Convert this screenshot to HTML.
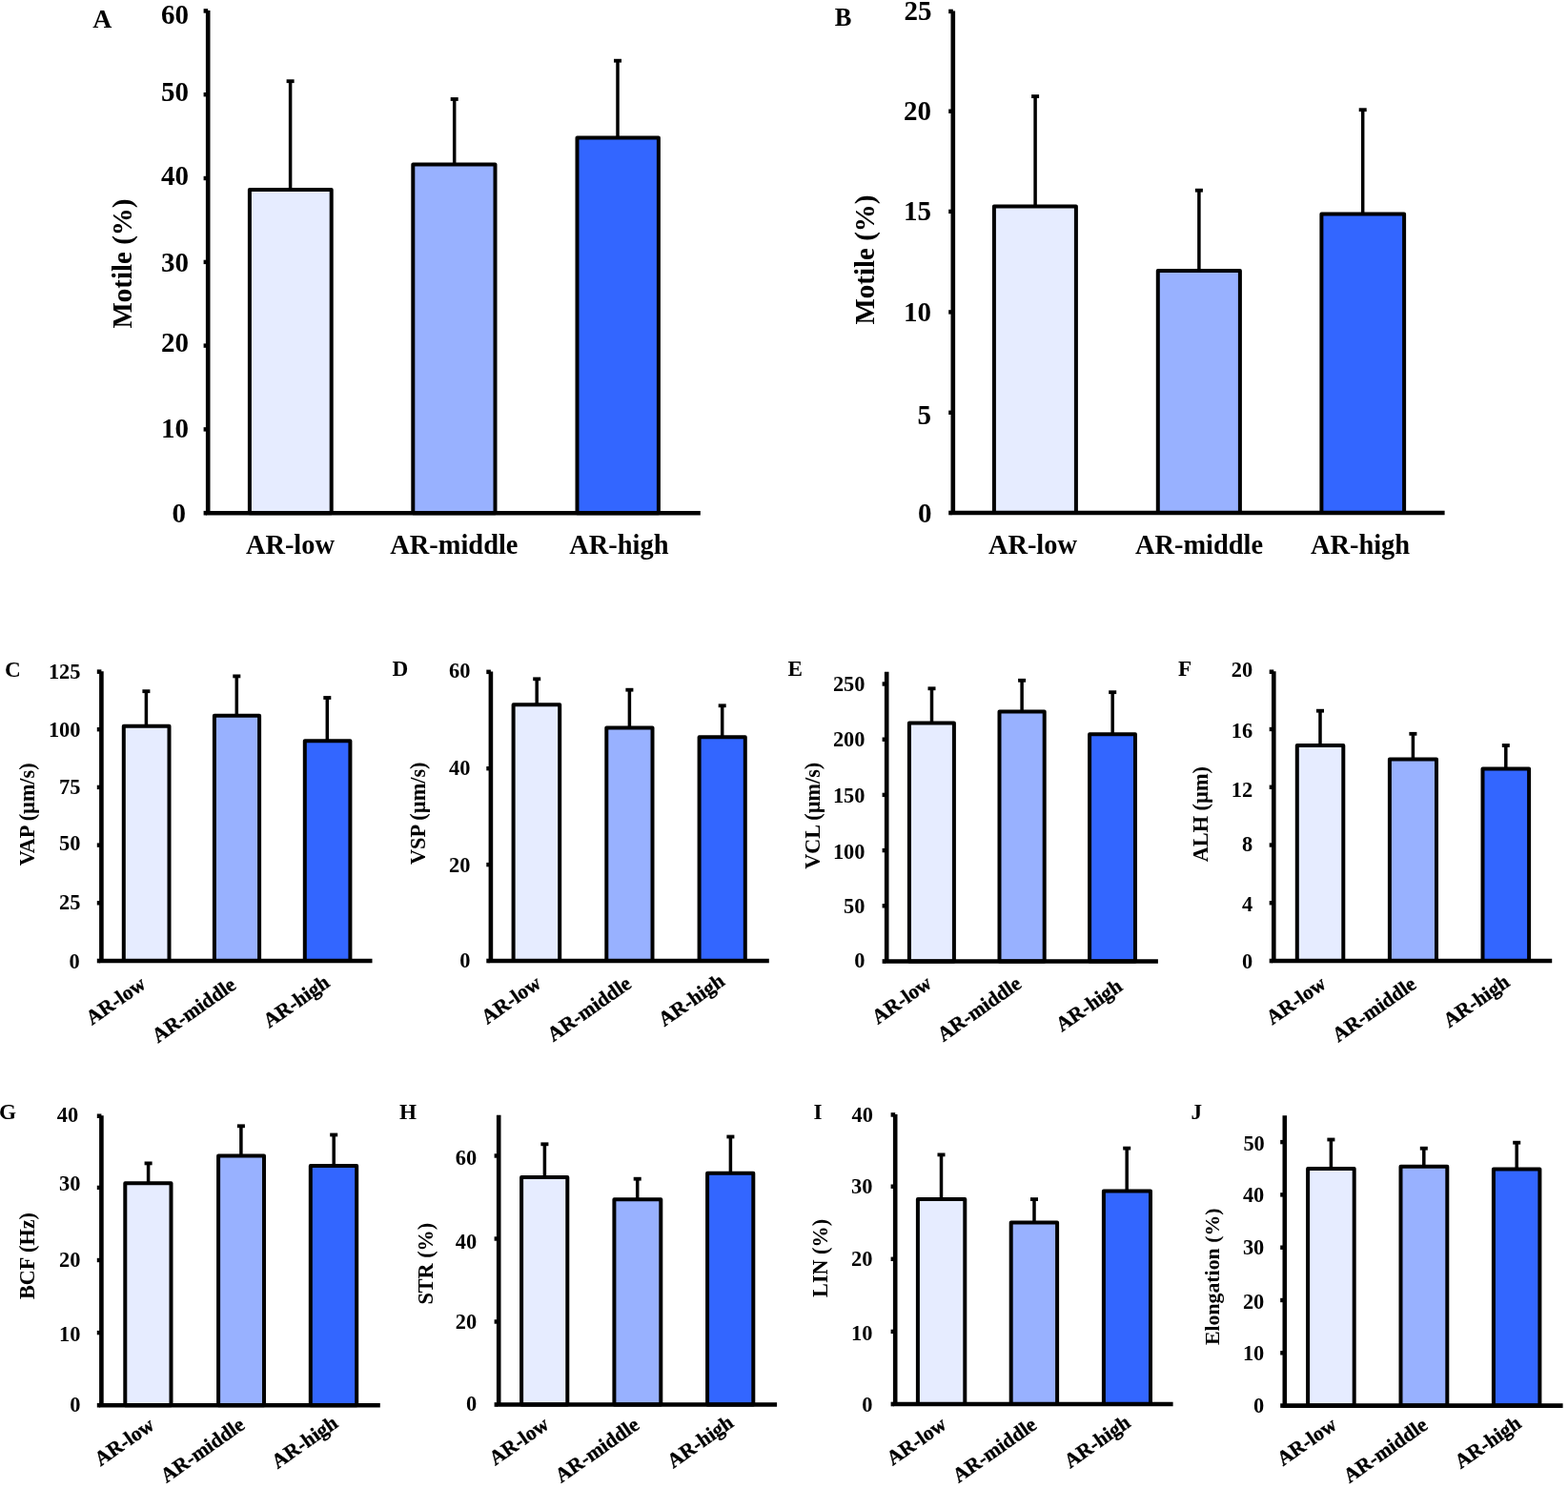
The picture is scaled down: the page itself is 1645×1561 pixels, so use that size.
<!DOCTYPE html>
<html lang="en">
<head>
<meta charset="utf-8">
<title>Sperm motility parameters by AR group</title>
<style>
html,body{margin:0;padding:0;background:#fff;}
body{width:1645px;height:1561px;overflow:hidden;}
svg{display:block;}
svg text{font-family:"Liberation Serif",serif;font-weight:bold;fill:#000;}
</style>
</head>
<body>
<svg width="1645" height="1561" viewBox="0 0 1645 1561">
<rect width="1645" height="1561" fill="#fff"/>
<g id="panel-A">
<text x="97.3" y="28.8" font-size="27.8">A</text>
<path d="M304.6 84.3V199" stroke="#000" stroke-width="3.5" fill="none"/>
<rect x="300.6" y="83.3" width="8" height="3.8" fill="#000"/>
<rect x="261.9" y="199" width="85.8" height="339.2" fill="#E6ECFF" stroke="#000" stroke-width="4" stroke-linejoin="round"/>
<path d="M476.7 103.1V172.4" stroke="#000" stroke-width="3.5" fill="none"/>
<rect x="472.7" y="102.1" width="8" height="3.8" fill="#000"/>
<rect x="433.3" y="172.4" width="86.2" height="365.8" fill="#98B1FF" stroke="#000" stroke-width="4" stroke-linejoin="round"/>
<path d="M648 62.8V144.4" stroke="#000" stroke-width="3.5" fill="none"/>
<rect x="644" y="61.8" width="8" height="3.8" fill="#000"/>
<rect x="605.5" y="144.4" width="85.4" height="393.8" fill="#3366FF" stroke="#000" stroke-width="4" stroke-linejoin="round"/>
<text x="195" y="548.34" font-size="29" text-anchor="end">0</text>
<rect x="213.6" y="448.2" width="4.6" height="4.4" fill="#000"/>
<text x="198" y="458.94" font-size="29" text-anchor="end">10</text>
<rect x="213.6" y="360.4" width="4.6" height="4.4" fill="#000"/>
<text x="198" y="369.34" font-size="29" text-anchor="end">20</text>
<rect x="213.6" y="272.7" width="4.6" height="4.4" fill="#000"/>
<text x="198" y="284.64" font-size="29" text-anchor="end">30</text>
<rect x="213.6" y="184.8" width="4.6" height="4.4" fill="#000"/>
<text x="198" y="193.74" font-size="29" text-anchor="end">40</text>
<rect x="213.6" y="97" width="4.6" height="4.4" fill="#000"/>
<text x="198" y="106.04" font-size="29" text-anchor="end">50</text>
<rect x="213.6" y="9.2" width="4.6" height="4.5" fill="#000"/>
<text x="198" y="25.04" font-size="29" text-anchor="end">60</text>
<path d="M218.2 11V538.2H734.8" stroke="#000" stroke-width="4.6" fill="none" stroke-linejoin="miter"/>
<rect x="213.6" y="535.9" width="3.3" height="4.6" fill="#000"/>
<text transform="translate(137.5 276.5) rotate(-90)" font-size="29" text-anchor="middle">Motile (%)</text>
<text x="304.4" y="580.7" font-size="28.4" text-anchor="middle">AR-low</text>
<text x="476.4" y="580.7" font-size="28.4" text-anchor="middle">AR-middle</text>
<text x="649.4" y="580.7" font-size="28.4" text-anchor="middle">AR-high</text>
</g>
<g id="panel-B">
<text x="875.8" y="26.7" font-size="26.5">B</text>
<path d="M1086.1 100.2V216.5" stroke="#000" stroke-width="3.5" fill="none"/>
<rect x="1082.1" y="99.2" width="8" height="3.8" fill="#000"/>
<rect x="1042.9" y="216.5" width="86" height="321.5" fill="#E6ECFF" stroke="#000" stroke-width="4" stroke-linejoin="round"/>
<path d="M1257.9 198.8V284.1" stroke="#000" stroke-width="3.5" fill="none"/>
<rect x="1253.9" y="197.8" width="8" height="3.8" fill="#000"/>
<rect x="1214.8" y="284.1" width="86.1" height="253.9" fill="#98B1FF" stroke="#000" stroke-width="4" stroke-linejoin="round"/>
<path d="M1429.7 114.3V224.4" stroke="#000" stroke-width="3.5" fill="none"/>
<rect x="1425.7" y="113.3" width="8" height="3.8" fill="#000"/>
<rect x="1386.4" y="224.4" width="86.7" height="313.6" fill="#3366FF" stroke="#000" stroke-width="4" stroke-linejoin="round"/>
<text x="977.5" y="547.74" font-size="29" text-anchor="end">0</text>
<rect x="995.2" y="430.6" width="4.6" height="4.4" fill="#000"/>
<text x="977" y="444.94" font-size="29" text-anchor="end">5</text>
<rect x="995.2" y="325.2" width="4.6" height="4.4" fill="#000"/>
<text x="977" y="337.14" font-size="29" text-anchor="end">10</text>
<rect x="995.2" y="219.7" width="4.6" height="4.4" fill="#000"/>
<text x="977" y="230.84" font-size="29" text-anchor="end">15</text>
<rect x="995.2" y="114.5" width="4.6" height="4.4" fill="#000"/>
<text x="977" y="126.44" font-size="29" text-anchor="end">20</text>
<rect x="995.2" y="9.7" width="4.6" height="4.5" fill="#000"/>
<text x="977.4" y="21.34" font-size="29" text-anchor="end">25</text>
<path d="M999.8 11.5V538H1515.6" stroke="#000" stroke-width="4.6" fill="none" stroke-linejoin="miter"/>
<rect x="995.2" y="535.7" width="3.3" height="4.6" fill="#000"/>
<text transform="translate(917 272.5) rotate(-90)" font-size="29" text-anchor="middle">Motile (%)</text>
<text x="1083.4" y="580.8" font-size="28.4" text-anchor="middle">AR-low</text>
<text x="1258" y="580.8" font-size="28.4" text-anchor="middle">AR-middle</text>
<text x="1427" y="580.8" font-size="28.4" text-anchor="middle">AR-high</text>
</g>
<g id="panel-C">
<text x="5" y="709.5" font-size="23.2">C</text>
<path d="M153.4 724.3V761.8" stroke="#000" stroke-width="3.5" fill="none"/>
<rect x="149.4" y="723.3" width="8" height="3.8" fill="#000"/>
<rect x="129.8" y="761.8" width="47.7" height="246.2" fill="#E6ECFF" stroke="#000" stroke-width="4" stroke-linejoin="round"/>
<path d="M248.3 708.5V750.8" stroke="#000" stroke-width="3.5" fill="none"/>
<rect x="244.3" y="707.5" width="8" height="3.8" fill="#000"/>
<rect x="224.9" y="750.8" width="47.2" height="257.2" fill="#98B1FF" stroke="#000" stroke-width="4" stroke-linejoin="round"/>
<path d="M343.3 731.1V777.3" stroke="#000" stroke-width="3.5" fill="none"/>
<rect x="339.3" y="730.1" width="8" height="3.8" fill="#000"/>
<rect x="319.8" y="777.3" width="47.6" height="230.7" fill="#3366FF" stroke="#000" stroke-width="4" stroke-linejoin="round"/>
<text x="83.7" y="1015.61" font-size="22.4" text-anchor="end">0</text>
<rect x="101.8" y="945.1" width="4.6" height="4.4" fill="#000"/>
<text x="84.5" y="953.81" font-size="22.4" text-anchor="end">25</text>
<rect x="101.8" y="884.4" width="4.6" height="4.4" fill="#000"/>
<text x="84.5" y="892.01" font-size="22.4" text-anchor="end">50</text>
<rect x="101.8" y="823.7" width="4.6" height="4.4" fill="#000"/>
<text x="84.5" y="833.11" font-size="22.4" text-anchor="end">75</text>
<rect x="101.8" y="763" width="4.6" height="4.4" fill="#000"/>
<text x="84.5" y="773.01" font-size="22.4" text-anchor="end">100</text>
<rect x="101.8" y="702.4" width="4.6" height="4.5" fill="#000"/>
<text x="84.5" y="711.71" font-size="22.4" text-anchor="end">125</text>
<path d="M106.4 704.2V1008H390.5" stroke="#000" stroke-width="4.6" fill="none" stroke-linejoin="miter"/>
<rect x="101.8" y="1005.7" width="3.3" height="4.6" fill="#000"/>
<text transform="translate(36 854.4) rotate(-90)" font-size="22.2" text-anchor="middle">VAP (µm/s)</text>
<text transform="translate(154.2 1035.3) rotate(-35)" font-size="21.5" text-anchor="end" stroke="#000" stroke-width="0.35">AR-low</text>
<text transform="translate(248.9 1036.2) rotate(-35)" font-size="21.5" text-anchor="end" stroke="#000" stroke-width="0.35">AR-middle</text>
<text transform="translate(347.1 1033.6) rotate(-35)" font-size="21.5" text-anchor="end" stroke="#000" stroke-width="0.35">AR-high</text>
</g>
<g id="panel-D">
<text x="411.4" y="709.3" font-size="23.2">D</text>
<path d="M563.2 711.4V739.2" stroke="#000" stroke-width="3.5" fill="none"/>
<rect x="559.2" y="710.4" width="8" height="3.8" fill="#000"/>
<rect x="538.6" y="739.2" width="48.6" height="268.8" fill="#E6ECFF" stroke="#000" stroke-width="4" stroke-linejoin="round"/>
<path d="M660.4 722.8V763.5" stroke="#000" stroke-width="3.5" fill="none"/>
<rect x="656.4" y="721.8" width="8" height="3.8" fill="#000"/>
<rect x="636.3" y="763.5" width="48.2" height="244.5" fill="#98B1FF" stroke="#000" stroke-width="4" stroke-linejoin="round"/>
<path d="M757.7 739.4V773.2" stroke="#000" stroke-width="3.5" fill="none"/>
<rect x="753.7" y="738.4" width="8" height="3.8" fill="#000"/>
<rect x="733.6" y="773.2" width="48.2" height="234.8" fill="#3366FF" stroke="#000" stroke-width="4" stroke-linejoin="round"/>
<text x="493.5" y="1015.21" font-size="22.4" text-anchor="end">0</text>
<rect x="510.3" y="904.9" width="4.6" height="4.4" fill="#000"/>
<text x="493.5" y="914.81" font-size="22.4" text-anchor="end">20</text>
<rect x="510.3" y="804" width="4.6" height="4.4" fill="#000"/>
<text x="493.5" y="812.91" font-size="22.4" text-anchor="end">40</text>
<rect x="510.3" y="702.6" width="4.6" height="4.5" fill="#000"/>
<text x="493.5" y="711.01" font-size="22.4" text-anchor="end">60</text>
<path d="M514.9 704.4V1008H806.8" stroke="#000" stroke-width="4.6" fill="none" stroke-linejoin="miter"/>
<rect x="510.3" y="1005.7" width="3.3" height="4.6" fill="#000"/>
<text transform="translate(445.9 853.3) rotate(-90)" font-size="22.3" text-anchor="middle">VSP (µm/s)</text>
<text transform="translate(568.9 1034.5) rotate(-35)" font-size="21.5" text-anchor="end" stroke="#000" stroke-width="0.35">AR-low</text>
<text transform="translate(663.6 1034.9) rotate(-35)" font-size="21.5" text-anchor="end" stroke="#000" stroke-width="0.35">AR-middle</text>
<text transform="translate(761.6 1032.1) rotate(-35)" font-size="21.5" text-anchor="end" stroke="#000" stroke-width="0.35">AR-high</text>
</g>
<g id="panel-E">
<text x="826.5" y="709.3" font-size="23.2">E</text>
<path d="M977.5 721.4V758.6" stroke="#000" stroke-width="3.5" fill="none"/>
<rect x="973.5" y="720.4" width="8" height="3.8" fill="#000"/>
<rect x="953.9" y="758.6" width="47" height="249.9" fill="#E6ECFF" stroke="#000" stroke-width="4" stroke-linejoin="round"/>
<path d="M1072.1 712.9V746.5" stroke="#000" stroke-width="3.5" fill="none"/>
<rect x="1068.1" y="711.9" width="8" height="3.8" fill="#000"/>
<rect x="1048.5" y="746.5" width="47.2" height="262" fill="#98B1FF" stroke="#000" stroke-width="4" stroke-linejoin="round"/>
<path d="M1167.2 725.3V770.3" stroke="#000" stroke-width="3.5" fill="none"/>
<rect x="1163.2" y="724.3" width="8" height="3.8" fill="#000"/>
<rect x="1143.1" y="770.3" width="47.9" height="238.2" fill="#3366FF" stroke="#000" stroke-width="4" stroke-linejoin="round"/>
<text x="907.5" y="1015.21" font-size="22.4" text-anchor="end">0</text>
<rect x="925.6" y="948.1" width="4.6" height="4.4" fill="#000"/>
<text x="907.5" y="958.21" font-size="22.4" text-anchor="end">50</text>
<rect x="925.6" y="889.9" width="4.6" height="4.4" fill="#000"/>
<text x="907.5" y="901.11" font-size="22.4" text-anchor="end">100</text>
<rect x="925.6" y="831.7" width="4.6" height="4.4" fill="#000"/>
<text x="907.5" y="842.31" font-size="22.4" text-anchor="end">150</text>
<rect x="925.6" y="773.5" width="4.6" height="4.4" fill="#000"/>
<text x="907.5" y="783.41" font-size="22.4" text-anchor="end">200</text>
<rect x="925.6" y="715.3" width="4.6" height="4.4" fill="#000"/>
<text x="907.5" y="724.71" font-size="22.4" text-anchor="end">250</text>
<path d="M930.2 704.8V1008.5H1214.9" stroke="#000" stroke-width="4.6" fill="none" stroke-linejoin="miter"/>
<rect x="925.6" y="1006.2" width="3.3" height="4.6" fill="#000"/>
<text transform="translate(859.8 855.8) rotate(-90)" font-size="22.2" text-anchor="middle">VCL (µm/s)</text>
<text transform="translate(978.8 1034.5) rotate(-35)" font-size="21.5" text-anchor="end" stroke="#000" stroke-width="0.35">AR-low</text>
<text transform="translate(1072.8 1034.9) rotate(-35)" font-size="21.5" text-anchor="end" stroke="#000" stroke-width="0.35">AR-middle</text>
<text transform="translate(1178.7 1037.6) rotate(-35)" font-size="21.5" text-anchor="end" stroke="#000" stroke-width="0.35">AR-high</text>
</g>
<g id="panel-F">
<text x="1236" y="708.8" font-size="23.2">F</text>
<path d="M1385 744.8V782.1" stroke="#000" stroke-width="3.5" fill="none"/>
<rect x="1381" y="743.8" width="8" height="3.8" fill="#000"/>
<rect x="1360.8" y="782.1" width="48.5" height="225.9" fill="#E6ECFF" stroke="#000" stroke-width="4" stroke-linejoin="round"/>
<path d="M1482.4 768.9V796.5" stroke="#000" stroke-width="3.5" fill="none"/>
<rect x="1478.4" y="767.9" width="8" height="3.8" fill="#000"/>
<rect x="1457.9" y="796.5" width="49.1" height="211.5" fill="#98B1FF" stroke="#000" stroke-width="4" stroke-linejoin="round"/>
<path d="M1579.8 781.1V806.4" stroke="#000" stroke-width="3.5" fill="none"/>
<rect x="1575.8" y="780.1" width="8" height="3.8" fill="#000"/>
<rect x="1555.5" y="806.4" width="48.6" height="201.6" fill="#3366FF" stroke="#000" stroke-width="4" stroke-linejoin="round"/>
<text x="1314.1" y="1016.01" font-size="22.4" text-anchor="end">0</text>
<rect x="1331.7" y="945.05" width="4.6" height="4.4" fill="#000"/>
<text x="1314.1" y="955.96" font-size="22.4" text-anchor="end">4</text>
<rect x="1331.7" y="884.3" width="4.6" height="4.4" fill="#000"/>
<text x="1314.1" y="893.21" font-size="22.4" text-anchor="end">8</text>
<rect x="1331.7" y="823.55" width="4.6" height="4.4" fill="#000"/>
<text x="1314.1" y="835.66" font-size="22.4" text-anchor="end">12</text>
<rect x="1331.7" y="762.8" width="4.6" height="4.4" fill="#000"/>
<text x="1314.1" y="773.71" font-size="22.4" text-anchor="end">16</text>
<rect x="1331.7" y="702.5" width="4.6" height="4.5" fill="#000"/>
<text x="1314.1" y="710.36" font-size="22.4" text-anchor="end">20</text>
<path d="M1336.3 704.3V1008H1628.2" stroke="#000" stroke-width="4.6" fill="none" stroke-linejoin="miter"/>
<rect x="1331.7" y="1005.7" width="3.3" height="4.6" fill="#000"/>
<text transform="translate(1266.8 854.2) rotate(-90)" font-size="22.3" text-anchor="middle">ALH (µm)</text>
<text transform="translate(1392.5 1035.2) rotate(-35)" font-size="21.5" text-anchor="end" stroke="#000" stroke-width="0.35">AR-low</text>
<text transform="translate(1487.1 1035.4) rotate(-35)" font-size="21.5" text-anchor="end" stroke="#000" stroke-width="0.35">AR-middle</text>
<text transform="translate(1585 1033.2) rotate(-35)" font-size="21.5" text-anchor="end" stroke="#000" stroke-width="0.35">AR-high</text>
</g>
<g id="panel-G">
<text x="-1" y="1174" font-size="23.2">G</text>
<path d="M155.6 1219.5V1241.3" stroke="#000" stroke-width="3.5" fill="none"/>
<rect x="151.6" y="1218.5" width="8" height="3.8" fill="#000"/>
<rect x="131.3" y="1241.3" width="48.2" height="232.9" fill="#E6ECFF" stroke="#000" stroke-width="4" stroke-linejoin="round"/>
<path d="M252.9 1180.4V1212.6" stroke="#000" stroke-width="3.5" fill="none"/>
<rect x="248.9" y="1179.4" width="8" height="3.8" fill="#000"/>
<rect x="229.1" y="1212.6" width="47.9" height="261.6" fill="#98B1FF" stroke="#000" stroke-width="4" stroke-linejoin="round"/>
<path d="M350.2 1189.6V1223" stroke="#000" stroke-width="3.5" fill="none"/>
<rect x="346.2" y="1188.6" width="8" height="3.8" fill="#000"/>
<rect x="325.8" y="1223" width="48.4" height="251.2" fill="#3366FF" stroke="#000" stroke-width="4" stroke-linejoin="round"/>
<text x="84.5" y="1481.41" font-size="22.4" text-anchor="end">0</text>
<rect x="101.8" y="1395.9" width="4.6" height="4.4" fill="#000"/>
<text x="84.5" y="1407.21" font-size="22.4" text-anchor="end">10</text>
<rect x="101.8" y="1319.8" width="4.6" height="4.4" fill="#000"/>
<text x="84.5" y="1329.21" font-size="22.4" text-anchor="end">20</text>
<rect x="101.8" y="1243.7" width="4.6" height="4.4" fill="#000"/>
<text x="84.5" y="1249.01" font-size="22.4" text-anchor="end">30</text>
<rect x="101.8" y="1168.5" width="4.6" height="4.5" fill="#000"/>
<text x="82.1" y="1176.81" font-size="22.4" text-anchor="end">40</text>
<path d="M106.4 1170.3V1474.2H398.8" stroke="#000" stroke-width="4.6" fill="none" stroke-linejoin="miter"/>
<rect x="101.8" y="1471.9" width="3.3" height="4.6" fill="#000"/>
<text transform="translate(36 1317.6) rotate(-90)" font-size="22.2" text-anchor="middle">BCF (Hz)</text>
<text transform="translate(163.2 1498.1) rotate(-35)" font-size="21.5" text-anchor="end" stroke="#000" stroke-width="0.35">AR-low</text>
<text transform="translate(258 1497.7) rotate(-35)" font-size="21.5" text-anchor="end" stroke="#000" stroke-width="0.35">AR-middle</text>
<text transform="translate(355.9 1495.9) rotate(-35)" font-size="21.5" text-anchor="end" stroke="#000" stroke-width="0.35">AR-high</text>
</g>
<g id="panel-H">
<text x="419" y="1174" font-size="23.2">H</text>
<path d="M571.4 1199.4V1234.9" stroke="#000" stroke-width="3.5" fill="none"/>
<rect x="567.4" y="1198.4" width="8" height="3.8" fill="#000"/>
<rect x="547.1" y="1234.9" width="48.2" height="238.6" fill="#E6ECFF" stroke="#000" stroke-width="4" stroke-linejoin="round"/>
<path d="M668.7 1235.8V1258.3" stroke="#000" stroke-width="3.5" fill="none"/>
<rect x="664.7" y="1234.8" width="8" height="3.8" fill="#000"/>
<rect x="644.4" y="1258.3" width="48.9" height="215.2" fill="#98B1FF" stroke="#000" stroke-width="4" stroke-linejoin="round"/>
<path d="M766.4 1191.6V1230.8" stroke="#000" stroke-width="3.5" fill="none"/>
<rect x="762.4" y="1190.6" width="8" height="3.8" fill="#000"/>
<rect x="742.1" y="1230.8" width="48.2" height="242.7" fill="#3366FF" stroke="#000" stroke-width="4" stroke-linejoin="round"/>
<text x="500.2" y="1479.51" font-size="22.4" text-anchor="end">0</text>
<rect x="518.6" y="1384.3" width="4.6" height="4.4" fill="#000"/>
<text x="500.2" y="1394.31" font-size="22.4" text-anchor="end">20</text>
<rect x="518.6" y="1297.3" width="4.6" height="4.4" fill="#000"/>
<text x="500.2" y="1309.61" font-size="22.4" text-anchor="end">40</text>
<rect x="518.6" y="1210.3" width="4.6" height="4.4" fill="#000"/>
<text x="500.2" y="1222.11" font-size="22.4" text-anchor="end">60</text>
<path d="M523.2 1169.7V1473.5H815.1" stroke="#000" stroke-width="4.6" fill="none" stroke-linejoin="miter"/>
<rect x="518.6" y="1471.2" width="3.3" height="4.6" fill="#000"/>
<text transform="translate(453.5 1325.7) rotate(-90)" font-size="22.2" text-anchor="middle">STR (%)</text>
<text transform="translate(577.2 1497.4) rotate(-35)" font-size="21.5" text-anchor="end" stroke="#000" stroke-width="0.35">AR-low</text>
<text transform="translate(672 1497.7) rotate(-35)" font-size="21.5" text-anchor="end" stroke="#000" stroke-width="0.35">AR-middle</text>
<text transform="translate(770.9 1495.4) rotate(-35)" font-size="21.5" text-anchor="end" stroke="#000" stroke-width="0.35">AR-high</text>
</g>
<g id="panel-I">
<text x="853.5" y="1174" font-size="23.2">I</text>
<path d="M987.5 1210.5V1258" stroke="#000" stroke-width="3.5" fill="none"/>
<rect x="983.5" y="1209.5" width="8" height="3.8" fill="#000"/>
<rect x="962.9" y="1258" width="49.4" height="215" fill="#E6ECFF" stroke="#000" stroke-width="4" stroke-linejoin="round"/>
<path d="M1085 1257.2V1282.6" stroke="#000" stroke-width="3.5" fill="none"/>
<rect x="1081" y="1256.2" width="8" height="3.8" fill="#000"/>
<rect x="1060.7" y="1282.6" width="48.4" height="190.4" fill="#98B1FF" stroke="#000" stroke-width="4" stroke-linejoin="round"/>
<path d="M1182.2 1203.7V1249.5" stroke="#000" stroke-width="3.5" fill="none"/>
<rect x="1178.2" y="1202.7" width="8" height="3.8" fill="#000"/>
<rect x="1157.9" y="1249.5" width="49.1" height="223.5" fill="#3366FF" stroke="#000" stroke-width="4" stroke-linejoin="round"/>
<text x="915.5" y="1481.41" font-size="22.4" text-anchor="end">0</text>
<rect x="934.6" y="1394.7" width="4.6" height="4.4" fill="#000"/>
<text x="915.5" y="1406.31" font-size="22.4" text-anchor="end">10</text>
<rect x="934.6" y="1318.6" width="4.6" height="4.4" fill="#000"/>
<text x="915.5" y="1328.01" font-size="22.4" text-anchor="end">20</text>
<rect x="934.6" y="1242.5" width="4.6" height="4.4" fill="#000"/>
<text x="915.5" y="1251.91" font-size="22.4" text-anchor="end">30</text>
<rect x="934.6" y="1167.2" width="4.6" height="4.5" fill="#000"/>
<text x="916" y="1177.01" font-size="22.4" text-anchor="end">40</text>
<path d="M939.2 1169V1473H1230.6" stroke="#000" stroke-width="4.6" fill="none" stroke-linejoin="miter"/>
<rect x="934.6" y="1470.7" width="3.3" height="4.6" fill="#000"/>
<text transform="translate(868.3 1319.9) rotate(-90)" font-size="22.2" text-anchor="middle">LIN (%)</text>
<text transform="translate(994.3 1497.4) rotate(-35)" font-size="21.5" text-anchor="end" stroke="#000" stroke-width="0.35">AR-low</text>
<text transform="translate(1088.9 1497.7) rotate(-35)" font-size="21.5" text-anchor="end" stroke="#000" stroke-width="0.35">AR-middle</text>
<text transform="translate(1187.3 1495.4) rotate(-35)" font-size="21.5" text-anchor="end" stroke="#000" stroke-width="0.35">AR-high</text>
</g>
<g id="panel-J">
<text x="1249.5" y="1174.4" font-size="23.2">J</text>
<path d="M1396.4 1194.6V1225.9" stroke="#000" stroke-width="3.5" fill="none"/>
<rect x="1392.4" y="1193.6" width="8" height="3.8" fill="#000"/>
<rect x="1372.1" y="1225.9" width="48.6" height="248.7" fill="#E6ECFF" stroke="#000" stroke-width="4" stroke-linejoin="round"/>
<path d="M1493.8 1203.8V1223.7" stroke="#000" stroke-width="3.5" fill="none"/>
<rect x="1489.8" y="1202.8" width="8" height="3.8" fill="#000"/>
<rect x="1469.5" y="1223.7" width="48.8" height="250.9" fill="#98B1FF" stroke="#000" stroke-width="4" stroke-linejoin="round"/>
<path d="M1591.2 1197.8V1226.4" stroke="#000" stroke-width="3.5" fill="none"/>
<rect x="1587.2" y="1196.8" width="8" height="3.8" fill="#000"/>
<rect x="1566.9" y="1226.4" width="48.5" height="248.2" fill="#3366FF" stroke="#000" stroke-width="4" stroke-linejoin="round"/>
<text x="1326.3" y="1481.81" font-size="22.4" text-anchor="end">0</text>
<rect x="1343.2" y="1417.1" width="4.6" height="4.4" fill="#000"/>
<text x="1326.3" y="1427.21" font-size="22.4" text-anchor="end">10</text>
<rect x="1343.2" y="1361.8" width="4.6" height="4.4" fill="#000"/>
<text x="1326.3" y="1373.21" font-size="22.4" text-anchor="end">20</text>
<rect x="1343.2" y="1306.5" width="4.6" height="4.4" fill="#000"/>
<text x="1326.3" y="1315.91" font-size="22.4" text-anchor="end">30</text>
<rect x="1343.2" y="1251.2" width="4.6" height="4.4" fill="#000"/>
<text x="1326.3" y="1260.61" font-size="22.4" text-anchor="end">40</text>
<rect x="1343.2" y="1195.9" width="4.6" height="4.4" fill="#000"/>
<text x="1326.8" y="1207.11" font-size="22.4" text-anchor="end">50</text>
<path d="M1347.8 1170.3V1474.6H1639.6" stroke="#000" stroke-width="4.6" fill="none" stroke-linejoin="miter"/>
<rect x="1343.2" y="1472.3" width="3.3" height="4.6" fill="#000"/>
<text transform="translate(1279.1 1339.3) rotate(-90)" font-size="21.8" text-anchor="middle">Elongation (%)</text>
<text transform="translate(1403.6 1497.9) rotate(-35)" font-size="21.5" text-anchor="end" stroke="#000" stroke-width="0.35">AR-low</text>
<text transform="translate(1499 1497.9) rotate(-35)" font-size="21.5" text-anchor="end" stroke="#000" stroke-width="0.35">AR-middle</text>
<text transform="translate(1597.2 1496.1) rotate(-35)" font-size="21.5" text-anchor="end" stroke="#000" stroke-width="0.35">AR-high</text>
</g>
</svg>
</body>
</html>
